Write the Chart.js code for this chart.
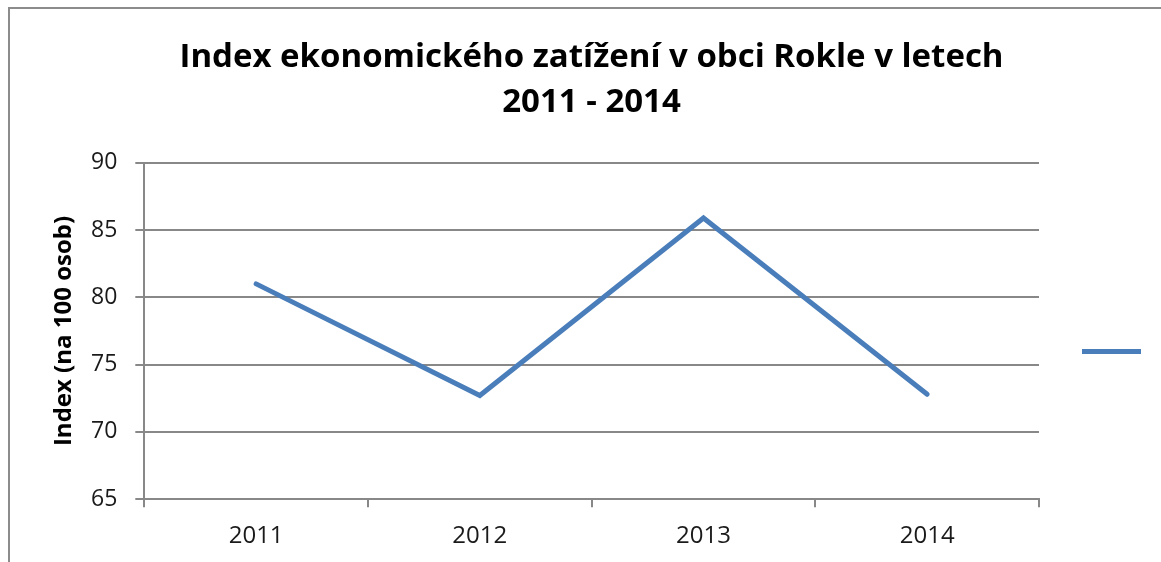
<!DOCTYPE html>
<html lang="cs">
<head>
  <meta charset="UTF-8">
  <title>Index ekonomického zatížení v obci Rokle</title>
  <script src="https://cdn.jsdelivr.net/npm/chart.js"></script>
  <style>
    html, body { margin: 0; padding: 0; background: #fff; overflow: hidden; }
    #frame {
      position: absolute; left: 8px; top: 7px; width: 1300px; height: 700px;
      border: 2px solid #8c8c8c;
    }
    #wrap { position: absolute; left: 0; top: 0; width: 1161px; height: 562px; }
  </style>
</head>
<body>
  <div id="frame"></div>
  <div id="wrap"><canvas id="chart"></canvas></div>

  <script>
    // data
    const years = ['2011', '2012', '2013', '2014'];
    const indexValues = [81.0, 72.7, 85.9, 72.8];
    const yTicks = [65, 70, 75, 80, 85, 90];

    const titleLines = ['Index ekonomického zatížení v obci Rokle v letech', '2011 - 2014'];
    const yTitle = 'Index (na 100 osob)';

    const gridColor = '#888888';
    const lineColor = '#4a7ebb';
    const fontFamily = '"Open Sans", "Liberation Sans", sans-serif';

    const ctx = document.getElementById('chart').getContext('2d');
    new Chart(ctx, {
      type: 'line',
      data: {
        labels: years,
        datasets: [{
          label: '',
          data: indexValues,
          borderColor: lineColor,
          backgroundColor: lineColor,
          borderWidth: 5,
          borderCapStyle: 'round',
          borderJoinStyle: 'miter',
          pointRadius: 0,
          tension: 0
        }]
      },
      options: {
        responsive: true,
        maintainAspectRatio: false,
        animation: false,
        layout: { padding: { left: 23, right: 1, top: 0, bottom: -4 } },
        plugins: {
          title: {
            display: true,
            text: titleLines,
            color: '#000',
            font: { family: fontFamily, size: 33, weight: 'bold', lineHeight: 1.36 },
            padding: { top: 35, bottom: 38 }
          },
          legend: {
            display: true,
            position: 'right',
            fullSize: false,
            maxWidth: 122,
            // blank title only pushes the legend line down a little
            title: { display: true, text: ' ', font: { size: 10, lineHeight: 1.2 }, padding: 14.5 },
            labels: {
              usePointStyle: true,
              pointStyle: 'line',
              pointStyleWidth: 59,
              padding: 43,
              font: { family: fontFamily, size: 18 }
            }
          },
          tooltip: { enabled: false }
        },
        scales: {
          x: {
            offset: true,
            grid: {
              offset: true,
              drawOnChartArea: false,
              drawTicks: true,
              tickLength: 8,
              color: gridColor,
              lineWidth: 2
            },
            border: { display: true, color: gridColor, width: 2 },
            ticks: {
              color: '#1a1a1a',
              padding: 15,
              font: { family: fontFamily, size: 24 }
            }
          },
          y: {
            min: 65,
            max: 90,
            afterBuildTicks: axis => { axis.ticks = yTicks.map(v => ({ value: v })); },
            grid: {
              color: gridColor,
              lineWidth: 2,
              drawTicks: true,
              tickLength: 9
            },
            border: { display: true, color: gridColor, width: 2 },
            ticks: {
              color: '#1a1a1a',
              padding: 18,
              font: { family: fontFamily, size: 23 }
            },
            title: {
              display: true,
              text: yTitle,
              color: '#000',
              font: { family: fontFamily, size: 24, weight: 'bold', lineHeight: 1.0 },
              padding: { top: 29, bottom: -3 }
            }
          }
        }
      }
    });
  </script>
</body>
</html>
